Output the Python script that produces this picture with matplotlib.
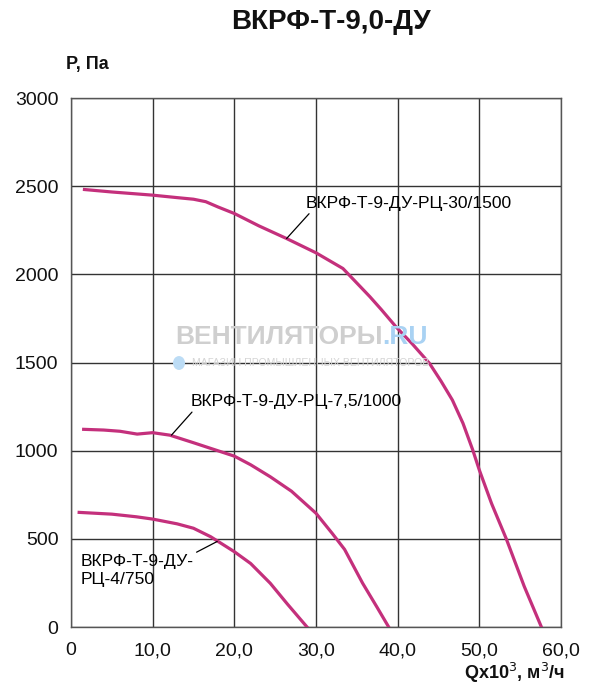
import matplotlib
matplotlib.use("Agg")
import matplotlib.pyplot as plt
from matplotlib.patches import Circle

plt.rcParams['font.family'] = ['Liberation Sans', 'DejaVu Sans']

# --- data ---
q_30 = [1.65, 5, 10, 13, 15, 16.5, 18, 20, 23, 26.4, 30, 33.3, 34.5, 36.6, 38, 39.8,
        41.8, 43.9, 45.3, 46.7, 48, 49.2, 50, 51.5, 53.3, 55.5, 57.6]
p_30 = [2481, 2467, 2449, 2435, 2426, 2412, 2382, 2345, 2275, 2203, 2122, 2033, 1975, 1873, 1800, 1702,
        1605, 1495, 1395, 1287, 1155, 1003, 890, 700, 500, 230, 0]

q_75 = [1.55, 4, 6, 8.1, 10, 12.1, 15, 17.1, 20, 22, 24.4, 27, 30, 32, 33.5, 35.7, 37.5, 38.9]
p_75 = [1121, 1117, 1110, 1094, 1102, 1088, 1045, 1013, 969, 920, 852, 770, 645, 530, 440, 249, 110, 0]

q_4 = [1.0, 5, 8, 10, 13, 15, 17.1, 20, 22, 24.4, 26.5, 28.9]
p_4 = [650, 640, 625, 612, 585, 560, 512, 427, 360, 248, 130, 0]

x_ticks = [0, 10, 20, 30, 40, 50, 60]
x_labels = ['0', '10,0', '20,0', '30,0', '40,0', '50,0', '60,0']
y_ticks = [0, 500, 1000, 1500, 2000, 2500, 3000]

curve_color = '#c4307c'

fig = plt.figure(figsize=(6.0, 6.96), dpi=100)
ax = fig.add_axes([71 / 600, 69 / 696, 490 / 600, 529 / 696])

ax.set_xlim(0, 60)
ax.set_ylim(0, 3000)
ax.set_xticks(x_ticks)
ax.set_xticklabels(x_labels)
ax.set_yticks(y_ticks)
ax.tick_params(length=0, labelsize=14, colors='#111111')
ax.tick_params(axis='x', pad=11)
ax.tick_params(axis='y', pad=9)
ax.grid(True, color='#333333', linewidth=1.0)
ax.set_axisbelow(True)
for s in ax.spines.values():
    s.set_color('#555555')
    s.set_linewidth(1.0)

# watermark: grey word, then ".RU" in blue placed right after it
wm_x, wm_y = 175 / 600, 1 - 337 / 696
wm = fig.text(wm_x, wm_y, 'ВЕНТИЛЯТОРЫ', fontsize=19, fontweight='bold',
              color='#cfcfcf', ha='left', va='center', zorder=1)
fig.canvas.draw()
bb = wm.get_window_extent().transformed(fig.transFigure.inverted())
fig.text(bb.x1, wm_y, '.RU', fontsize=19, fontweight='bold',
         color='#a9d2f3', ha='left', va='center', zorder=1)
fig.text(192 / 600, 1 - 363 / 696, 'МАГАЗИН ПРОМЫШЛЕННЫХ ВЕНТИЛЯТОРОВ',
         fontsize=7.6, color='#d5d5d5', ha='left', va='center', zorder=1)
fig.patches.append(Circle((179 / 600, 1 - 363 / 696), 6 / 600, transform=fig.transFigure,
                          facecolor='#bcdcf5', edgecolor='none', zorder=1))

ax.plot(q_30, p_30, color=curve_color, linewidth=2.3, zorder=3)
ax.plot(q_75, p_75, color=curve_color, linewidth=2.3, zorder=3)
ax.plot(q_4, p_4, color=curve_color, linewidth=2.3, zorder=3)

# curve labels with leader lines
ax.annotate('ВКРФ-Т-9-ДУ-РЦ-30/1500', xy=(26.4, 2203), xytext=(28.7, 2402),
            fontsize=12.6, va='center', ha='left',
            arrowprops=dict(arrowstyle='-', color='black', lw=0.9, shrinkA=0, shrinkB=0,
                            relpos=(0.03, 0.0)))
ax.annotate('ВКРФ-Т-9-ДУ-РЦ-7,5/1000', xy=(12.3, 1088), xytext=(14.6, 1277),
            fontsize=12.6, va='center', ha='left',
            arrowprops=dict(arrowstyle='-', color='black', lw=0.9, shrinkA=0, shrinkB=0,
                            relpos=(0.02, 0.0)))
ax.annotate('ВКРФ-Т-9-ДУ-\nРЦ-4/750', xy=(17.9, 485), xytext=(1.2, 320),
            fontsize=12.6, va='center', ha='left', linespacing=1.25,
            arrowprops=dict(arrowstyle='-', color='black', lw=0.9, shrinkA=0, shrinkB=0,
                            relpos=(0.88, 0.8)))

fig.text(331 / 600, 1 - 22 / 696, 'ВКРФ-Т-9,0-ДУ', fontsize=20, fontweight='bold',
         ha='center', va='center', color='#111111')
fig.text(66 / 600, 1 - 65 / 696, 'P, Па', fontsize=13, fontweight='bold',
         ha='left', va='center', color='#111111')
fig.text(565 / 600, 1 - 673 / 696, 'Qx10$^{3}$, м$^{3}$/ч', fontsize=13, fontweight='bold',
         ha='right', va='center', color='#111111')

fig.savefig('out.png', dpi=100, facecolor='white')
